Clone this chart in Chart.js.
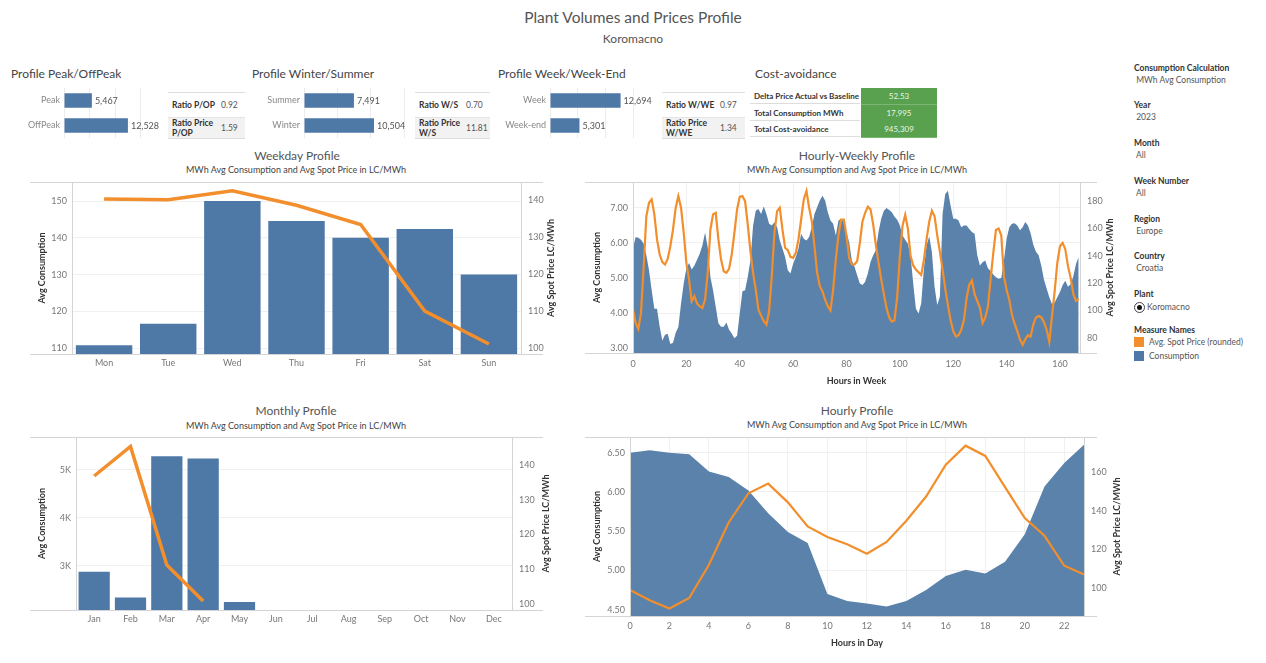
<!DOCTYPE html>
<html>
<head>
<meta charset="utf-8">
<title>Plant Volumes and Prices Profile</title>
<script src="https://cdn.jsdelivr.net/npm/chart.js@4.4.1/dist/chart.umd.min.js"></script>
<style>
  body { margin: 0; width: 1266px; height: 663px; background: #fff; position: relative; overflow: hidden;
         font-family: Lato, "Open Sans", sans-serif; }
  .t { position: absolute; white-space: nowrap; line-height: 1; }
  .c { transform: translateX(-50%); }
  .kt { font-size: 12px; color: #444; top: 68px; }
  .ct { font-size: 12px; color: #555; }
  .cs { font-size: 9px; color: #444; }
  canvas { position: absolute; }

  .rt { position: absolute; top: 92px; height: 45px; border-top: 1px solid #ddd; border-bottom: 1px solid #ddd; font-size: 8.5px; }
  .r1 { position: absolute; left: 0; right: 0; top: 0; height: 24px; border-bottom: 1px solid #e4e4e4; }
  .r2 { position: absolute; left: 0; right: 0; top: 25px; height: 20px; background: #f2f2f2; }
  .lb { position: absolute; left: 4px; top: 50%; transform: translateY(-50%); font-weight: bold; color: #333; line-height: 10px; }
  .vl { position: absolute; top: 50%; transform: translateY(-50%); color: #555; }

  #cost { position: absolute; left: 750px; top: 88px; font-size: 8px; }
  .crow { position: relative; height: 16.7px; }
  .clab { position: absolute; left: 0; width: 110px; height: 16px; border-bottom: 1px solid #ddd; font-weight: bold; color: #333; line-height: 16px; padding-left: 4px; box-sizing: border-box; white-space: nowrap; }
  .cval { position: absolute; left: 111px; width: 76px; height: 16px; background: #59a14f; color: #e9f5e4; text-align: center; line-height: 16px; border-bottom: 1px solid #7bb672; }

  .sb { position: absolute; left: 1134px; font-size: 8.5px; line-height: 12px; color: #555; white-space: nowrap; }
  .sb b { color: #333; }
  .sq { position: absolute; left: 1134px; width: 10px; height: 10px; }
</style>
</head>
<body>

<div class="t c" style="left:633px;top:10px;font-size:15.5px;color:#555">Plant Volumes and Prices Profile</div>
<div class="t c" style="left:633px;top:33px;font-size:12px;color:#555">Koromacno</div>

<div class="t kt" style="left:11px">Profile Peak/OffPeak</div>
<div class="t kt" style="left:252px">Profile Winter/Summer</div>
<div class="t kt" style="left:498px">Profile Week/Week-End</div>
<div class="t kt" style="left:755px">Cost-avoidance</div>

<div class="rt" style="left:168px;width:77px">
  <div class="r1"><span class="lb">Ratio P/OP</span><span class="vl" style="left:53px">0.92</span></div>
  <div class="r2"><span class="lb">Ratio Price<br>P/OP</span><span class="vl" style="left:53px">1.59</span></div>
</div>
<div class="rt" style="left:415px;width:75px">
  <div class="r1"><span class="lb">Ratio W/S</span><span class="vl" style="left:51px">0.70</span></div>
  <div class="r2"><span class="lb">Ratio Price<br>W/S</span><span class="vl" style="left:51px">11.81</span></div>
</div>
<div class="rt" style="left:662px;width:83px">
  <div class="r1"><span class="lb">Ratio W/WE</span><span class="vl" style="left:58px">0.97</span></div>
  <div class="r2"><span class="lb">Ratio Price<br>W/WE</span><span class="vl" style="left:58px">1.34</span></div>
</div>

<div id="cost"></div>

<div class="t c ct" style="left:297px;top:150px">Weekday Profile</div>
<div class="t c cs" style="left:296px;top:165px">MWh Avg Consumption and Avg Spot Price in LC/MWh</div>
<div class="t c ct" style="left:857px;top:150px">Hourly-Weekly Profile</div>
<div class="t c cs" style="left:857px;top:165px">MWh Avg Consumption and Avg Spot Price in LC/MWh</div>
<div class="t c ct" style="left:296px;top:405px">Monthly Profile</div>
<div class="t c cs" style="left:296px;top:421px">MWh Avg Consumption and Avg Spot Price in LC/MWh</div>
<div class="t c ct" style="left:857px;top:405px">Hourly Profile</div>
<div class="t c cs" style="left:857px;top:420px">MWh Avg Consumption and Avg Spot Price in LC/MWh</div>

<div class="sb" style="top:62px"><b>Consumption Calculation</b><br>&nbsp;MWh Avg Consumption</div>
<div class="sb" style="top:99px"><b>Year</b><br>&nbsp;2023</div>
<div class="sb" style="top:137px"><b>Month</b><br>&nbsp;All</div>
<div class="sb" style="top:175px"><b>Week Number</b><br>&nbsp;All</div>
<div class="sb" style="top:213px"><b>Region</b><br>&nbsp;Europe</div>
<div class="sb" style="top:250px"><b>Country</b><br>&nbsp;Croatia</div>
<div class="sb" style="top:288px"><b>Plant</b></div>
<div style="position:absolute;left:1134px;top:302px;width:9px;height:9px;border:1px solid #444;border-radius:50%"></div>
<div style="position:absolute;left:1137px;top:305px;width:5px;height:5px;background:#111;border-radius:50%"></div>
<div class="sb" style="left:1147px;top:301px">Koromacno</div>
<div class="sb" style="top:324px"><b>Measure Names</b></div>
<div class="sq" style="top:337px;background:#f28e2b"></div>
<div class="sb" style="left:1149px;top:336px">Avg. Spot Price (rounded)</div>
<div class="sq" style="top:351px;background:#4e79a7"></div>
<div class="sb" style="left:1149px;top:350px">Consumption</div>

<script>
const peakLabels = ['Peak', 'OffPeak'];
const peakValues = [5467, 12528];
const seasonLabels = ['Summer', 'Winter'];
const seasonValues = [7491, 10504];
const weekLabels = ['Week', 'Week-end'];
const weekValues = [12694, 5301];

const costLabels = ['Delta Price Actual vs Baseline', 'Total Consumption MWh', 'Total Cost-avoidance'];
const costValues = ['52.53', '17,995', '945,309'];

const weekdays = ['Mon', 'Tue', 'Wed', 'Thu', 'Fri', 'Sat', 'Sun'];
const weekdayCons = [110.8, 116.6, 150.0, 144.6, 140.0, 142.4, 130.0];
const weekdayPrice = [140.3, 140.1, 142.5, 138.6, 133.4, 110.0, 101.1];

const months = ['Jan', 'Feb', 'Mar', 'Apr', 'May', 'Jun', 'Jul', 'Aug', 'Sep', 'Oct', 'Nov', 'Dec'];
const monthCons = [2880, 2345, 5285, 5240, 2250, null, null, null, null, null, null, null];
const monthPrice = [136.8, 145.3, 111.2, 100.9, null, null, null, null, null, null, null, null];

const hourTicks = [0, 2, 4, 6, 8, 10, 12, 14, 16, 18, 20, 22];
const hourCons = [6.50, 6.53, 6.50, 6.48, 6.26, 6.19, 6.02, 5.73, 5.49, 5.35, 4.70, 4.61,
                  4.58, 4.54, 4.61, 4.75, 4.93, 5.01, 4.96, 5.11, 5.46, 6.07, 6.37, 6.60];
const hourPrice = [99.0, 93.6, 89.4, 94.8, 112.0, 133.9, 149.0, 154.0, 144.3, 131.8, 126.4, 122.6,
                   117.7, 123.8, 134.8, 147.3, 163.8, 173.6, 168.3, 152.2, 136.2, 127.0, 111.5, 107.0];

const weekHourTicks = [0, 20, 40, 60, 80, 100, 120, 140, 160];
const weeklyCons = [
  5.85, 6.17, 6.15, 6.09, 5.98, 5.65, 5.22, 4.65, 4.12, 4.12, 3.61, 3.22,
  3.38, 3.41, 3.12, 3.15, 3.44, 3.60, 4.27, 4.84, 5.27, 5.43, 5.24, 5.36,
  5.52, 5.69, 5.93, 6.30, 5.88, 5.03, 4.65, 4.18, 3.71, 3.61, 3.61, 3.73,
  3.52, 3.42, 3.28, 3.35, 3.99, 4.62, 4.65, 5.03, 5.50, 6.50, 6.92, 6.97,
  6.83, 7.04, 6.83, 6.55, 6.50, 6.59, 6.45, 6.07, 5.84, 5.60, 5.22, 5.13,
  5.41, 5.60, 5.84, 6.26, 6.12, 6.07, 6.17, 6.45, 6.83, 7.02, 7.21, 7.35,
  7.21, 6.88, 6.64, 6.55, 6.21, 6.64, 6.69, 6.59, 6.31, 6.02, 5.50, 5.32,
  5.08, 4.84, 4.80, 4.89, 5.13, 5.46, 5.65, 5.79, 6.31, 6.69, 6.92, 7.00,
  6.94, 6.88, 6.75, 6.66, 6.50, 6.21, 6.09, 5.98, 5.65, 4.84, 4.13, 3.99,
  4.28, 5.27, 5.93, 6.19, 5.74, 4.75, 4.23, 4.47, 6.83, 7.40, 7.49, 7.07,
  6.69, 6.69, 6.64, 6.45, 6.50, 6.50, 6.40, 6.31, 6.26, 5.65, 5.36, 5.45,
  5.50, 5.28, 5.20, 5.10, 5.02, 4.98, 5.00, 5.50, 6.12, 6.45, 6.55, 6.56,
  6.50, 6.36, 6.45, 6.60, 6.50, 6.28, 5.95, 5.75, 5.65, 5.35, 4.95, 4.70,
  4.45, 4.26, 4.30, 4.45, 4.60, 4.80, 4.92, 4.75, 4.82, 5.05, 5.40, 5.60
];
const weeklyPrice = [
  100.7, 91.0, 86.6, 98.3, 132.5, 169.0, 178.8, 181.3, 170.3, 152.0, 141.0, 135.4,
  133.7, 137.8, 147.1, 159.3, 175.2, 183.7, 175.2, 156.9, 134.9, 122.7, 106.8, 110.5,
  105.1, 103.2, 101.9, 108.0, 127.6, 159.3, 170.3, 171.5, 152.0, 137.3, 128.8, 127.6,
  130.5, 141.0, 156.9, 174.0, 183.2, 183.7, 180.0, 163.0, 143.4, 127.6, 115.4, 100.7,
  96.3, 92.2, 89.7, 99.5, 125.1, 156.9, 172.7, 175.2, 159.3, 145.9, 144.2, 139.3,
  138.6, 142.2, 152.0, 166.6, 181.3, 187.4, 175.2, 165.4, 147.1, 127.6, 117.8, 114.1,
  108.0, 103.2, 100.2, 115.4, 137.3, 155.6, 166.6, 166.6, 154.4, 138.6, 133.7, 133.7,
  136.1, 149.5, 165.4, 171.5, 176.0, 174.0, 163.0, 148.0, 135.0, 123.0, 112.0, 102.0,
  95.0, 92.0, 93.0, 110.0, 140.0, 162.0, 170.0, 160.0, 140.0, 133.0, 130.0, 128.0,
  126.0, 137.0, 152.0, 165.0, 173.0, 169.0, 155.0, 143.0, 130.0, 116.0, 104.0, 93.0,
  85.0, 81.0, 82.0, 86.0, 93.0, 109.0, 119.0, 122.0, 112.0, 107.0, 102.0, 91.0,
  95.0, 103.0, 123.0, 142.0, 159.0, 160.0, 155.0, 125.0, 115.0, 108.0, 97.0, 90.5,
  85.0, 79.0, 75.0, 79.0, 82.0, 81.0, 90.0, 95.0, 96.0, 95.0, 91.5, 86.0,
  77.0, 96.0, 114.0, 135.0, 147.0, 149.5, 144.7, 132.5, 124.0, 112.0, 107.0, 108.5
];

// ---- look ----
const FONT = 'Lato, "Open Sans", sans-serif';
const BLUE = '#4e79a7';
const AREA = '#5b82ab';
const ORANGE = '#f28e2b';
const GRID = '#f0f0f0';

Chart.defaults.font.family = FONT;
Chart.defaults.font.size = 9;
Chart.defaults.color = '#777';
Chart.defaults.animation = false;
Chart.defaults.responsive = false;
Chart.defaults.maintainAspectRatio = false;
Chart.defaults.plugins.legend.display = false;
Chart.defaults.plugins.tooltip.enabled = false;

// cost-avoidance table
const cost = document.getElementById('cost');
costLabels.forEach((lab, i) => {
  const row = document.createElement('div');
  row.className = 'crow';
  row.innerHTML = '<div class="clab">' + lab + '</div><div class="cval">' + costValues[i] + '</div>';
  cost.appendChild(row);
});

function makeCanvas(left, top, w, h) {
  const c = document.createElement('canvas');
  c.width = w; c.height = h;
  c.style.left = left + 'px'; c.style.top = top + 'px';
  c.style.width = w + 'px'; c.style.height = h + 'px';
  document.body.appendChild(c);
  return c;
}
// fixed axis boxes, and no label overhang eating into the plot area
const fitW = w => s => { s.width = w; s.paddingTop = 0; s.paddingBottom = 0; };
const fitH = h => s => { s.height = h; s.paddingLeft = 0; s.paddingRight = 0; };
const setTicks = vals => s => { s.ticks = vals.map(v => ({ value: v })); };

// pane borders and axis titles in the Tableau way
const framePlugin = {
  id: 'frame',
  afterDatasetsDraw(chart, args, o) {
    const { ctx, chartArea: a } = chart;
    ctx.save();
    ctx.strokeStyle = '#d4d4d4';
    ctx.lineWidth = 1;
    const t = Math.round(a.top) + 0.5, b = Math.round(a.bottom) + 0.5;
    const l = Math.round(a.left) + 0.5, r = Math.round(a.right) + 0.5;
    ctx.beginPath();
    ctx.moveTo(0, t); ctx.lineTo(o.x1, t);
    ctx.moveTo(0, b); ctx.lineTo(o.x1, b);
    ctx.moveTo(l, a.top); ctx.lineTo(l, a.bottom);
    ctx.moveTo(r, a.top); ctx.lineTo(r, a.bottom);
    ctx.stroke();
    ctx.fillStyle = '#333';
    ctx.font = 'bold 9px ' + FONT;
    ctx.textAlign = 'center';
    ctx.textBaseline = 'middle';
    const cy = (a.top + a.bottom) / 2;
    [[o.lx, o.left], [o.rx, o.right]].forEach(([x, txt]) => {
      ctx.save();
      ctx.translate(x, cy);
      ctx.rotate(-Math.PI / 2);
      ctx.fillText(txt, 0, 0);
      ctx.restore();
    });
    if (o.bottom) ctx.fillText(o.bottom, (a.left + a.right) / 2, o.by);
    ctx.restore();
  }
};

const valueLabels = {
  id: 'valueLabels',
  afterDatasetsDraw(chart) {
    const { ctx } = chart;
    const vals = chart.data.datasets[0].data;
    ctx.save();
    ctx.font = '9px ' + FONT;
    ctx.fillStyle = '#555';
    ctx.textBaseline = 'middle';
    chart.getDatasetMeta(0).data.forEach((bar, i) => {
      ctx.fillText(vals[i].toLocaleString('en-US'), bar.x + 3, bar.y + 0.5);
    });
    ctx.restore();
  }
};

// ---- small KPI bar charts ----
function kpiBars(left, width, axisW, plotW, max, labels, values) {
  new Chart(makeCanvas(left, 86, width, 54), {
    type: 'bar',
    data: { labels: labels, datasets: [{ data: values, backgroundColor: BLUE, barPercentage: 0.58, categoryPercentage: 1 }] },
    options: {
      indexAxis: 'y',
      layout: { padding: { top: 2, bottom: 2, right: width - axisW - plotW } },
      scales: {
        x: { min: 0, max: max, afterBuildTicks: setTicks([0, 5000, 10000, 15000]),
             ticks: { display: false }, grid: { color: '#ececec', drawTicks: false }, border: { display: false },
             afterFit: fitH(0) },
        y: { grid: { display: false, drawTicks: false }, border: { display: false },
             ticks: { padding: 4, color: '#888' }, afterFit: fitW(axisW) }
      }
    },
    plugins: [valueLabels]
  });
}
kpiBars(15, 156, 49, 100, 19600, peakLabels, peakValues);
kpiBars(255, 156, 49, 103, 15450, seasonLabels, seasonValues);
kpiBars(500, 160, 50, 106, 19060, weekLabels, weekValues);

// ---- Weekday Profile ----
new Chart(makeCanvas(30, 176, 535, 196), {
  type: 'bar',
  data: {
    labels: weekdays,
    datasets: [
      { type: 'line', data: weekdayPrice, yAxisID: 'yR', borderColor: ORANGE, borderWidth: 3.5, pointRadius: 0, tension: 0 },
      { type: 'bar', data: weekdayCons, yAxisID: 'yL', backgroundColor: BLUE, barPercentage: 0.88, categoryPercentage: 1 }
    ]
  },
  options: {
    layout: { padding: { top: 6 } },
    scales: {
      x: { grid: { display: false, drawTicks: false }, border: { display: false }, ticks: { padding: 4 }, afterFit: fitH(18) },
      yL: { position: 'left', min: 108.4, max: 155.2, beginAtZero: false, afterBuildTicks: setTicks([110, 120, 130, 140, 150]),
            grid: { color: GRID, drawTicks: false }, border: { display: false }, ticks: { padding: 5 }, afterFit: fitW(42) },
      yR: { position: 'right', min: 98.4, max: 144.9, afterBuildTicks: setTicks([100, 110, 120, 130, 140]),
            grid: { display: false, drawTicks: false }, border: { display: false }, ticks: { padding: 7 }, afterFit: fitW(44) }
    },
    plugins: { frame: { x1: 513, lx: 12, rx: 521, left: 'Avg Consumption', right: 'Avg Spot Price LC/MWh' } }
  },
  plugins: [framePlugin]
});

// ---- Hourly-Weekly Profile ----
new Chart(makeCanvas(585, 176, 540, 214), {
  type: 'line',
  data: {
    datasets: [
      { data: weeklyPrice.map((v, i) => ({ x: i, y: v })), yAxisID: 'yR', borderColor: ORANGE, borderWidth: 2.2, pointRadius: 0, tension: 0 },
      { data: weeklyCons.map((v, i) => ({ x: i, y: v })), yAxisID: 'yL', fill: 'start', backgroundColor: AREA,
        borderColor: 'rgba(0,0,0,0)', borderWidth: 0, pointRadius: 0, tension: 0 }
    ]
  },
  options: {
    layout: { padding: { top: 6 } },
    scales: {
      x: { type: 'linear', min: 0, max: 167.5, afterBuildTicks: setTicks(weekHourTicks),
           grid: { color: GRID, drawTicks: false }, border: { display: false }, ticks: { padding: 6 }, afterFit: fitH(37) },
      yL: { position: 'left', min: 2.86, max: 7.74, afterBuildTicks: setTicks([3, 4, 5, 6, 7]),
            grid: { color: GRID, drawTicks: false }, border: { display: false },
            ticks: { padding: 5, callback: v => v.toFixed(2) }, afterFit: fitW(48) },
      yR: { position: 'right', min: 69, max: 194, afterBuildTicks: setTicks([80, 100, 120, 140, 160, 180]),
            grid: { display: false, drawTicks: false }, border: { display: false }, ticks: { padding: 7 }, afterFit: fitW(45) }
    },
    plugins: { frame: { x1: 512, lx: 12, rx: 525, left: 'Avg Consumption', right: 'Avg Spot Price LC/MWh', bottom: 'Hours in Week', by: 205 } }
  },
  plugins: [framePlugin]
});

// ---- Monthly Profile ----
new Chart(makeCanvas(30, 431, 535, 197), {
  type: 'bar',
  data: {
    labels: months,
    datasets: [
      { type: 'line', data: monthPrice, yAxisID: 'yR', borderColor: ORANGE, borderWidth: 3.5, pointRadius: 0, tension: 0 },
      { type: 'bar', data: monthCons, yAxisID: 'yL', backgroundColor: BLUE, barPercentage: 0.86, categoryPercentage: 1 }
    ]
  },
  options: {
    layout: { padding: { top: 6 } },
    scales: {
      x: { grid: { display: false, drawTicks: false }, border: { display: false }, ticks: { padding: 4 }, afterFit: fitH(18) },
      yL: { position: 'left', min: 2083, max: 5687, beginAtZero: false, afterBuildTicks: setTicks([3000, 4000, 5000]),
            grid: { color: GRID, drawTicks: false }, border: { display: false },
            ticks: { padding: 5, callback: v => (v / 1000) + 'K' }, afterFit: fitW(46) },
      yR: { position: 'right', min: 98.3, max: 148, afterBuildTicks: setTicks([100, 110, 120, 130, 140]),
            grid: { display: false, drawTicks: false }, border: { display: false }, ticks: { padding: 7 }, afterFit: fitW(53) }
    },
    plugins: { frame: { x1: 513, lx: 12, rx: 516, left: 'Avg Consumption', right: 'Avg Spot Price LC/MWh' } }
  },
  plugins: [framePlugin]
});

// ---- Hourly Profile ----
new Chart(makeCanvas(585, 431, 540, 224), {
  type: 'line',
  data: {
    datasets: [
      { data: hourPrice.map((v, i) => ({ x: i, y: v })), yAxisID: 'yR', borderColor: ORANGE, borderWidth: 2.2, pointRadius: 0, tension: 0 },
      { data: hourCons.map((v, i) => ({ x: i, y: v })), yAxisID: 'yL', fill: 'start', backgroundColor: AREA,
        borderColor: 'rgba(0,0,0,0)', borderWidth: 0, pointRadius: 0, tension: 0 }
    ]
  },
  options: {
    layout: { padding: { top: 6 } },
    scales: {
      x: { type: 'linear', min: 0, max: 23, afterBuildTicks: setTicks(hourTicks),
           grid: { color: GRID, drawTicks: false }, border: { display: false }, ticks: { padding: 5 }, afterFit: fitH(39) },
      yL: { position: 'left', min: 4.42, max: 6.70, afterBuildTicks: setTicks([4.5, 5, 5.5, 6, 6.5]),
            grid: { color: GRID, drawTicks: false }, border: { display: false },
            ticks: { padding: 5, callback: v => v.toFixed(2) }, afterFit: fitW(45) },
      yR: { position: 'right', min: 85.5, max: 178.1, afterBuildTicks: setTicks([100, 120, 140, 160]),
            grid: { display: false, drawTicks: false }, border: { display: false }, ticks: { padding: 7 }, afterFit: fitW(41) }
    },
    plugins: { frame: { x1: 512, lx: 12, rx: 532, left: 'Avg Consumption', right: 'Avg Spot Price LC/MWh', bottom: 'Hours in Day', by: 212 } }
  },
  plugins: [framePlugin]
});
</script>
</body>
</html>
